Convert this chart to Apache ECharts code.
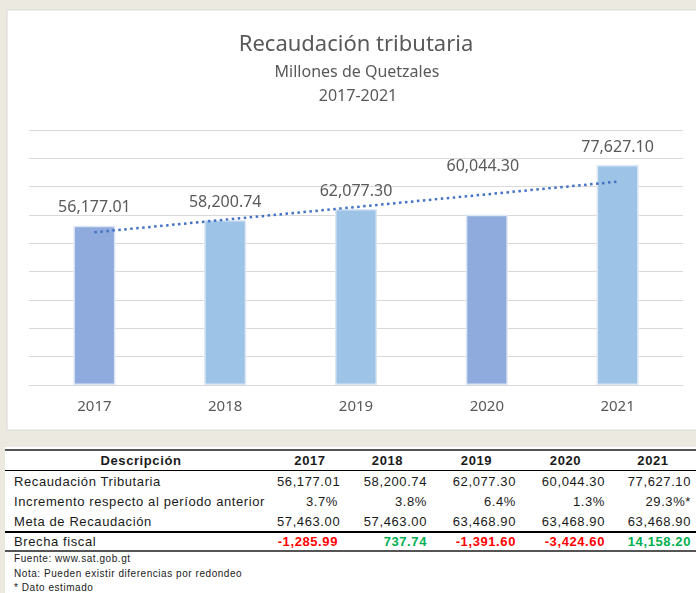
<!DOCTYPE html>
<html lang="es">
<head>
    <meta charset="UTF-8">
    <title>Recaudación tributaria</title>
    <script src="https://cdn.jsdelivr.net/npm/echarts@6.0.0/dist/echarts.min.js"></script>
    <style>
        html, body { margin: 0; padding: 0; background: #ECE9E0; }
        #graph { position: absolute; left: 0; top: 0; width: 696px; height: 447px; }
        #tabla {
            position: absolute; left: 5px; top: 447px; width: 691px; height: 146px;
            background: #fff; font-family: "Liberation Sans", Arial, sans-serif; color: #1a1a1a;
        }
        #tabla table { border-collapse: collapse; table-layout: fixed; width: 691px; margin-top: 2px; font-size: 13px; letter-spacing: 0.6px; }
        #tabla th { font-weight: bold; text-align: center; height: 19px; padding: 0; border-top: 2px solid #555; border-bottom: 1px solid #000; }
        #tabla td { height: 20px; padding: 0 5px 0 0; text-align: right; white-space: nowrap; }
        #tabla td.lbl { text-align: left; padding-left: 9px; }
        #tabla tr.brecha td { font-weight: bold; border-top: 2px solid #000; border-bottom: 2px solid #555; height: 17px; }
        #tabla tr.brecha td.lbl { font-weight: normal; }
        #tabla .neg { color: #FF0000; }
        #tabla .pos { color: #00B050; }
        #tabla .nota { font-size: 10px; letter-spacing: 0.55px; padding-left: 9px; line-height: 14.5px; }
    </style>
</head>
<body>
<div id="graph"></div>
<div id="tabla"></div>
<script>
    // datos
    var years = ['2017', '2018', '2019', '2020', '2021'];
    var recaudacion = [56177.01, 58200.74, 62077.30, 60044.30, 77627.10];
    var incremento = ['3.7%', '3.8%', '6.4%', '1.3%', '29.3%*'];
    var meta = [57463.00, 57463.00, 63468.90, 63468.90, 63468.90];
    var brecha = [-1285.99, 737.74, -1391.60, -3424.60, 14158.20];
    var trendEnds = [53880, 71770];   // linea de tendencia (extremos)
    var notas = ['Fuente:  www.sat.gob.gt', 'Nota: Pueden existir diferencias por redondeo', '* Dato estimado'];

    var barColors = ['#8FAADC', '#9DC3E6', '#9DC3E6', '#8FAADC', '#9DC3E6'];

    function fmt(v) {
        return v.toLocaleString('en-US', {minimumFractionDigits: 2, maximumFractionDigits: 2});
    }

    var myChart = echarts.init(document.getElementById('graph'));

    var barData = recaudacion.map(function (v, i) {
        var item = {value: v, itemStyle: {color: barColors[i]}};
        if (i === 3) item.label = {offset: [-4, -30]};
        return item;
    });

    var option = {
        backgroundColor: '#ECE9E0',
        animation: false,
        graphic: [
            {type: 'rect', shape: {x: 7, y: 10, width: 700, height: 420}, style: {fill: '#fff', stroke: '#D9D9D9', lineWidth: 1}, z: -10},
            {type: 'text', x: 356, y: 45, style: {text: 'Recaudación tributaria', fontFamily: 'Noto Sans', fontSize: 22, fill: '#595959', align: 'center', verticalAlign: 'middle'}},
            {type: 'text', x: 357, y: 72, style: {text: 'Millones de Quetzales', fontFamily: 'Noto Sans', fontSize: 16, fill: '#595959', align: 'center', verticalAlign: 'middle'}},
            {type: 'text', x: 358, y: 96, style: {text: '2017-2021', fontFamily: 'Noto Sans', fontSize: 16, fill: '#595959', align: 'center', verticalAlign: 'middle'}}
        ],
        grid: {left: 29, right: 13, top: 130, bottom: 62},
        xAxis: {
            type: 'category',
            data: years,
            axisLine: {lineStyle: {color: '#D9D9D9', width: 1}},
            axisTick: {show: false},
            axisLabel: {color: '#595959', fontFamily: 'Noto Sans', fontSize: 15, margin: 14}
        },
        yAxis: {
            type: 'value',
            min: 0, max: 90000, interval: 10000,
            axisLabel: {show: false},
            axisLine: {show: false},
            axisTick: {show: false},
            splitLine: {lineStyle: {color: '#D9D9D9', width: 1}}
        },
        series: [{
            type: 'bar',
            data: barData,
            barWidth: 42,
            itemStyle: {borderColor: '#DCE6F4', borderWidth: 1.5},
            label: {
                show: true, position: 'top', distance: 10,
                color: '#595959', fontFamily: 'Noto Sans', fontSize: 16,
                formatter: function (p) { return fmt(p.value); }
            },
            markLine: {
                silent: true,
                symbol: ['none', 'none'],
                label: {show: false},
                lineStyle: {color: '#4472C4', width: 2.5, type: [2.5, 3.5]},
                data: [[{coord: [0, trendEnds[0]]}, {coord: [4, trendEnds[1]]}]]
            }
        }]
    };
    myChart.setOption(option);

    // tabla inferior
    var html = '<table><colgroup><col style="width:272px"><col style="width:66px"><col style="width:89px"><col style="width:89px"><col style="width:89px"><col style="width:86px"></colgroup>';
    html += '<tr><th>Descripción</th>' + years.map(function (y) { return '<th>' + y + '</th>'; }).join('') + '</tr>';
    html += '<tr><td class="lbl">Recaudación Tributaria</td>' + recaudacion.map(function (v) { return '<td>' + fmt(v) + '</td>'; }).join('') + '</tr>';
    html += '<tr><td class="lbl">Incremento respecto al período anterior</td>' + incremento.map(function (v) { return '<td>' + v + '</td>'; }).join('') + '</tr>';
    html += '<tr><td class="lbl">Meta de Recaudación</td>' + meta.map(function (v) { return '<td>' + fmt(v) + '</td>'; }).join('') + '</tr>';
    html += '<tr class="brecha"><td class="lbl">Brecha fiscal</td>' + brecha.map(function (v) { return '<td class="' + (v < 0 ? 'neg' : 'pos') + '">' + fmt(v) + '</td>'; }).join('') + '</tr>';
    html += '</table>';
    html += notas.map(function (n) { return '<div class="nota">' + n + '</div>'; }).join('');
    document.getElementById('tabla').innerHTML = html;
</script>
</body>
</html>
